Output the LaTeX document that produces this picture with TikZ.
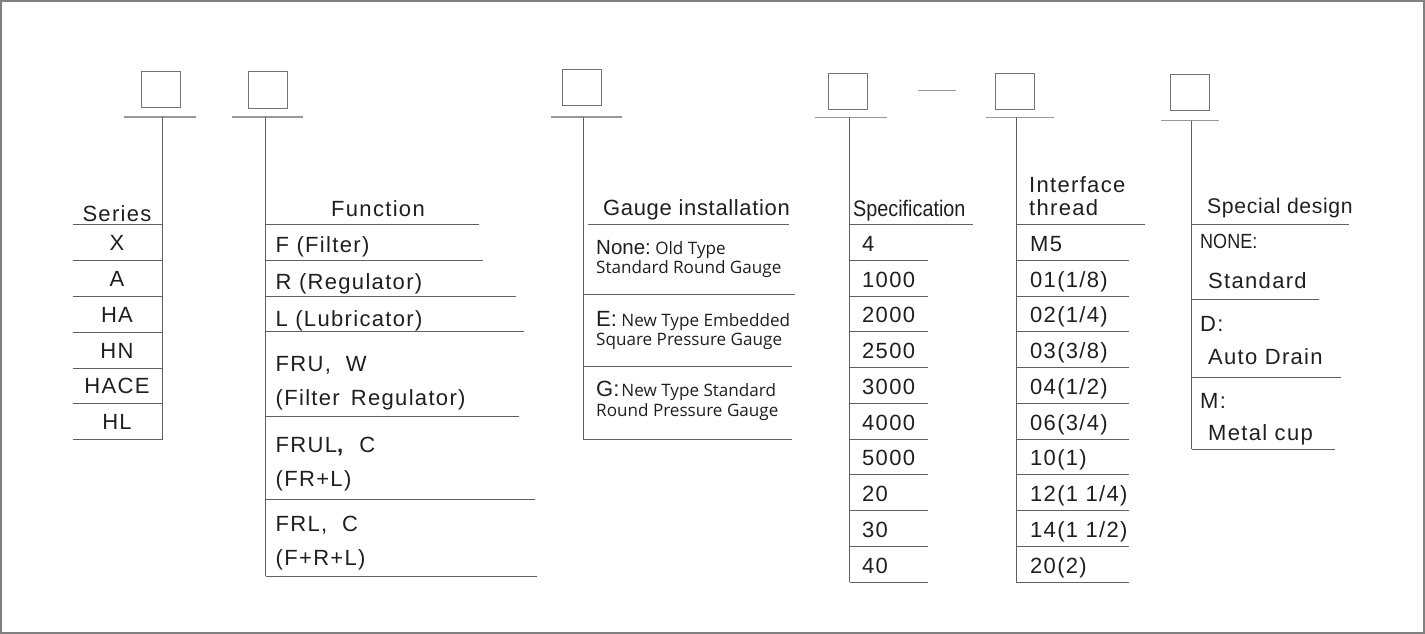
\documentclass[tikz,border=0pt]{standalone}
\usepackage{fontspec}
\setmainfont{Liberation Sans}
\newfontfamily\mainf[LetterSpace=6]{Liberation Sans}
\newfontfamily\midf[LetterSpace=3]{Liberation Sans}
\newfontfamily\plainf{Liberation Sans}
\newfontfamily\narrowf[FakeStretch=0.88]{Liberation Sans}
\newfontfamily\descf{Open Sans}
\newcommand{\Dsc}{\descf\fontsize{17.1}{19}\selectfont}
\begin{document}
\begin{tikzpicture}[x=1pt,y=-1pt,
  codebox/.style={draw=black!55, line width=1pt, minimum width=39pt, minimum height=36pt, inner sep=0pt},
  bar/.style={draw=black!40, line width=1.5pt},
  rulel/.style={draw=black!62, line width=1pt},
  lbl/.style={anchor=base west, inner sep=0pt, text=black!88, font=\mainf\fontsize{22}{26}\selectfont},
  clbl/.style={lbl, anchor=base},
  glbl/.style={lbl, font=\midf\fontsize{22}{26}\selectfont},
  nlbl/.style={lbl, font=\narrowf\fontsize{22.5}{26}\selectfont},
  slbl/.style={lbl, font=\narrowf\fontsize{20.5}{24}\selectfont},
  elbl/.style={lbl, font=\Dsc}
]
\useasboundingbox (0,0) rectangle (1425,634);
\draw[draw=black!50, line width=2pt] (1,1) rectangle (1424,633);

% ---------- Series ----------
\node[codebox] (bS) at (161,89.5) {};
\coordinate (sL) at (124,117); \coordinate (sR) at (196,117); \coordinate (sT) at (162,117);
\draw[bar] (sL) -- (sR);
\coordinate (sB) at (162,440);
\draw[rulel] (sT) -- (sB);
\node[clbl] (tS) at (117,221) {Series};
\foreach \y/\t [count=\i] in {224/,260/X,296/A,332/HA,368/HN,403/HACE,439/HL}{
  \draw[rulel] (73,\y) -- (162,\y);
  \ifx\t\empty\else\node[clbl] (s\i) at (117,\y-10) {\t};\fi
}

% ---------- Function ----------
\node[codebox] (bF) at (267.5,90) {};
\coordinate (fL) at (232,117); \coordinate (fR) at (303,117); \coordinate (fT) at (265.5,117);
\draw[bar] (fL) -- (fR);
\coordinate (fB) at (265.5,576);
\draw[rulel] (fT) -- (fB);
\node[clbl] (tF) at (378,216) {Function};
\draw[rulel] (265.5,224.5) -- (479,224.5);
\node[lbl] (f1) at (275.5,252.6) {F (Filter)};
\draw[rulel] (265.5,260) -- (483,260);
\node[lbl] (f2) at (275.5,289.7) {R (Regulator)};
\draw[rulel] (265.5,296) -- (516,296);
\node[lbl] (f3) at (275.5,326) {L (Lubricator)};
\draw[rulel] (265.5,331.5) -- (524,331.5);
\node[lbl] (f4a) at (275.5,371) {FRU,\,\, W};
\node[lbl] (f4b) at (275.5,405) {(Filter\, Regulator)};
\draw[rulel] (265.5,416.5) -- (519,416.5);
\node[lbl] (f5a) at (275.5,452.6) {FRUL\textbf{,}\,\, C};
\node[lbl] (f5b) at (275.5,486) {(FR+L)};
\draw[rulel] (265.5,499) -- (535,499);
\node[lbl] (f6a) at (275.5,531) {FRL,\,\, C};
\node[lbl] (f6b) at (275.5,565) {(F+R+L)};
\draw[rulel] (265.5,576) -- (537,576);

% ---------- Gauge installation ----------
\node[codebox] (bG) at (582,87.5) {};
\coordinate (gL) at (551,117); \coordinate (gR) at (622,117); \coordinate (gT) at (583.3,117);
\draw[bar] (gL) -- (gR);
\coordinate (gB) at (583.3,439);
\draw[rulel] (gT) -- (gB);
\node[glbl] (tG) at (603,215) {Gauge installation};
\draw[rulel] (588,224.3) -- (789,224.3);
\node[lbl, font=\plainf\fontsize{20.5}{24}\selectfont] (g1a) at (596,254.3) {None:{\Dsc\ Old Type}};
\node[elbl] (g1b) at (596,273.3) {Standard Round Gauge};
\draw[rulel] (583.3,294.3) -- (795,294.3);
\node[lbl, font=\plainf\fontsize{22}{26}\selectfont] (g2a) at (596,326.7) {E:{\Dsc\ New Type Embedded}};
\node[elbl] (g2b) at (596,345) {Square Pressure Gauge};
\draw[rulel] (583.3,366) -- (792,366);
\node[lbl, font=\plainf\fontsize{22}{26}\selectfont] (g3a) at (596,396.7) {G:{\Dsc\kern2pt New Type Standard}};
\node[elbl] (g3b) at (596,416.7) {Round Pressure Gauge};
\draw[rulel] (583.3,439) -- (792,439);

% ---------- Specification ----------
\node[codebox] (bP) at (848.3,91.7) {};
\coordinate (pL) at (815,117.4); \coordinate (pR) at (887,117.4); \coordinate (pT) at (849.5,117.4);
\draw[bar] (pL) -- (pR);
\coordinate (dA) at (918,90.4); \coordinate (dB) at (956,90.4);
\draw[bar, line width=1.3pt] (dA) -- (dB);
\coordinate (pB) at (849.5,582);
\draw[rulel] (pT) -- (pB);
\node[nlbl] (tP) at (853,216.4) {Specification};
\draw[rulel] (849.5,224.5) -- (972.8,224.5);
\foreach \t [count=\i] in {4,1000,2000,2500,3000,4000,5000,20,30,40}{
  \pgfmathsetmacro{\yy}{224.5+35.75*\i}
  \draw[rulel] (849.5,\yy) -- (927.6,\yy);
  \node[lbl] (p\i) at (862,\yy-9) {\t};
}

% ---------- Interface thread ----------
\node[codebox] (bI) at (1015.3,91.4) {};
\coordinate (iL) at (986,117.4); \coordinate (iR) at (1054,117.4); \coordinate (iT) at (1016.4,117.4);
\draw[bar] (iL) -- (iR);
\coordinate (iB) at (1016.4,582);
\draw[rulel] (iT) -- (iB);
\node[lbl] (tIa) at (1029,192.4) {Interface};
\node[lbl] (tIb) at (1029,215.4) {thread};
\draw[rulel] (1016.4,224.5) -- (1145,224.5);
\foreach \t [count=\i] in {M5,01(1/8),02(1/4),03(3/8),04(1/2),06(3/4),10(1),12(1 1/4),14(1 1/2),20(2)}{
  \pgfmathsetmacro{\yy}{224.5+35.75*\i}
  \draw[rulel] (1016.4,\yy) -- (1129,\yy);
  \node[lbl] (i\i) at (1030,\yy-9) {\t};
}

% ---------- Special design ----------
\node[codebox] (bD) at (1190,92.3) {};
\coordinate (dL) at (1161,120.7); \coordinate (dR) at (1219,120.7); \coordinate (dT) at (1191.7,120.7);
\draw[bar] (dL) -- (dR);
\coordinate (dBt) at (1191.7,449.3);
\draw[rulel] (dT) -- (dBt);
\node[glbl, font=\midf\fontsize{21.2}{25}\selectfont] (tD) at (1207,213.3) {Special design};
\draw[rulel] (1191.7,224.3) -- (1349,224.3);
\node[slbl] (d1a) at (1200,248.3) {NONE:};
\node[lbl] (d1b) at (1208,288) {Standard};
\draw[rulel] (1191.7,299) -- (1319,299);
\node[lbl] (d2a) at (1200,331.5) {D:};
\node[lbl] (d2b) at (1208,364.3) {Auto Drain};
\draw[rulel] (1191.7,377.3) -- (1341,377.3);
\node[lbl] (d3a) at (1200,408.3) {M:};
\node[lbl] (d3b) at (1208,440) {Metal cup};
\draw[rulel] (1191.7,449.3) -- (1335,449.3);
\end{tikzpicture}
\end{document}
